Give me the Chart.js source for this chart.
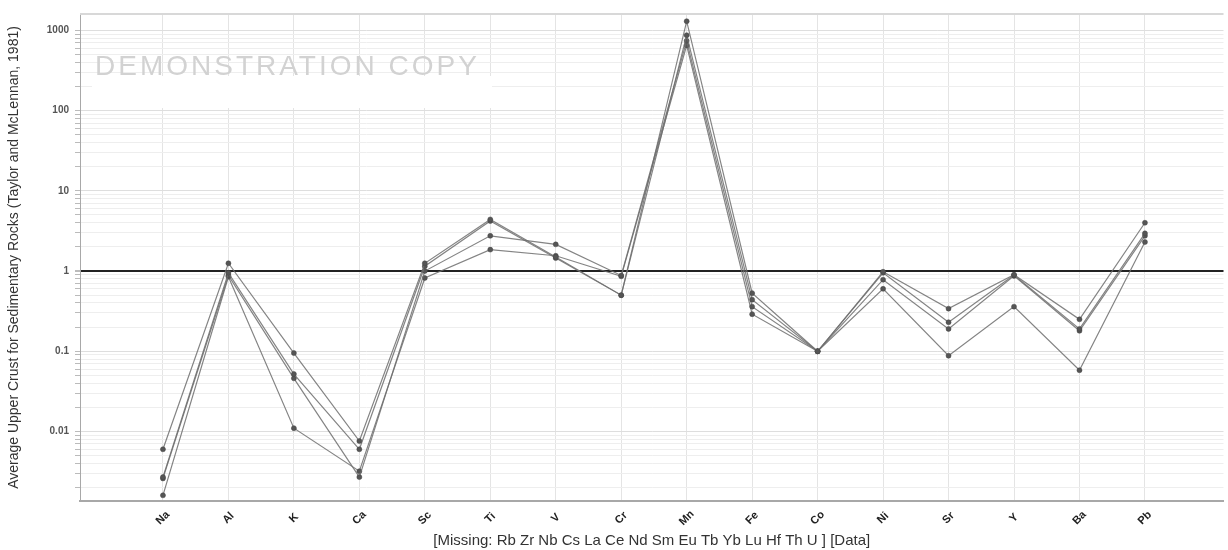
<!DOCTYPE html>
<html>
<head>
<meta charset="utf-8">
<script src="https://cdn.jsdelivr.net/npm/chart.js@4.4.1/dist/chart.umd.min.js"></script>
<style>
  html, body { margin: 0; padding: 0; background: #fff; }
  #wrap { width: 1228px; height: 550px; }
</style>
</head>
<body>
<div id="wrap"><canvas id="spider" width="1228" height="550"></canvas></div>
<script>
// Elements (normalised to upper crust)
const elements = ["Na", "Al", "K", "Ca", "Sc", "Ti", "V", "Cr", "Mn", "Fe", "Co", "Ni", "Sr", "Y", "Ba", "Pb"];

// Samples
const sample1 = [0.0060, 1.25, 0.095, 0.0076, 1.25, 4.4, 1.50, 0.50, 1300, 0.53, 0.10, 0.98, 0.34, 0.90, 0.25, 4.0];
const sample2 = [0.0027, 0.95, 0.052, 0.0060, 1.15, 4.2, 1.45, 0.50, 870, 0.44, 0.10, 0.95, 0.23, 0.89, 0.19, 2.95];
const sample3 = [0.0026, 0.88, 0.046, 0.0027, 1.00, 2.75, 2.15, 0.88, 740, 0.36, 0.10, 0.78, 0.19, 0.87, 0.18, 2.75];
const sample4 = [0.0016, 0.85, 0.011, 0.0032, 0.82, 1.85, 1.55, 0.86, 650, 0.29, 0.10, 0.60, 0.088, 0.36, 0.058, 2.3];

// Decade tick labels on the y axis
const yTicks = [0.01, 0.1, 1, 10, 100, 1000];

const yTitle = "Average Upper Crust for Sedimentary Rocks (Taylor and McLennan, 1981)";
const xTitle = "[Missing: Rb Zr Nb Cs La Ce Nd Sm Eu Tb Yb Lu Hf Th U ] [Data]";
const watermark = "DEMONSTRATION COPY";

// minor grid ticks 2..9 in each decade
const decades = [0.001].concat(yTicks);
const allTicks = [];
decades.forEach(d => {
  for (let m = 1; m <= 9; m++) allTicks.push(Number((m * d).toPrecision(3)));
});

function isDecade(v) {
  return yTicks.some(t => Math.abs(t - v) < t * 1e-6);
}

function toPoints(arr) {
  return arr.map((v, i) => ({ x: i, y: v }));
}

const samples = [sample1, sample2, sample3, sample4];

// Extra drawing: watermark, rotated element labels, frame
const decor = {
  id: "decor",
  beforeDatasetsDraw(chart) {
    const { ctx, chartArea } = chart;
    ctx.save();
    // white band behind watermark
    ctx.fillStyle = "#fff";
    ctx.fillRect(92, 76, 400, 32);
    ctx.font = "28px Arial";
    ctx.letterSpacing = "3px";
    ctx.fillStyle = "#d2d2d2";
    ctx.textBaseline = "alphabetic";
    ctx.fillText(watermark, 95, 75);
    ctx.restore();

    ctx.save();
    ctx.strokeStyle = "#d8d8d8";
    ctx.lineWidth = 2;
    ctx.beginPath();
    ctx.moveTo(chartArea.left, chartArea.top);
    ctx.lineTo(chartArea.right, chartArea.top);
    ctx.stroke();
    ctx.restore();
  },
  afterDraw(chart) {
    const { ctx } = chart;
    const xs = chart.scales.x;
    const bottom = chart.chartArea.bottom;
    ctx.save();
    ctx.font = "bold 11px Arial";
    ctx.fillStyle = "#222";
    ctx.textAlign = "center";
    ctx.textBaseline = "middle";
    elements.forEach((el, i) => {
      const px = xs.getPixelForValue(i);
      ctx.save();
      ctx.translate(px, bottom + 17);
      ctx.rotate(-Math.PI / 4);
      ctx.fillText(el, 0, 0);
      ctx.restore();
    });
    ctx.restore();
  }
};

new Chart(document.getElementById("spider"), {
  type: "line",
  data: {
    datasets: samples.map((s, k) => ({
      label: "Sample " + (k + 1),
      data: toPoints(s),
      borderColor: "rgba(110,110,110,0.85)",
      borderWidth: 1.2,
      pointRadius: 2.5,
      pointBackgroundColor: "#555",
      pointBorderColor: "#444",
      pointBorderWidth: 0.5,
      tension: 0
    }))
  },
  options: {
    responsive: false,
    animation: false,
    layout: { padding: { left: 6, right: 2, top: 14, bottom: 0 } },
    plugins: {
      legend: { display: false },
      tooltip: { enabled: false }
    },
    scales: {
      x: {
        type: "linear",
        min: -1.267,
        max: 16.2,
        afterBuildTicks(scale) {
          scale.ticks = elements.map((e, i) => ({ value: i }));
        },
        afterFit(scale) { scale.height = 49; },
        ticks: { display: false },
        grid: { color: "#e4e4e4", lineWidth: 1, drawTicks: false },
        border: { color: "#a8a8a8", width: 2 },
        title: {
          display: true,
          text: xTitle,
          font: { family: "Arial", size: 15 },
          color: "#333",
          padding: { top: 0, bottom: 0 }
        }
      },
      y: {
        type: "logarithmic",
        min: 0.00136,
        max: 1600,
        afterBuildTicks(scale) {
          scale.ticks = allTicks.filter(v => v >= scale.min && v <= scale.max).map(v => ({ value: v }));
        },
        afterFit(scale) { scale.width = 74; },
        ticks: {
          autoSkip: false,
          font: { family: "Arial", size: 10, weight: "bold" },
          color: "#555",
          padding: 6,
          callback: v => isDecade(v) ? String(v) : ""
        },
        grid: {
          color: c => {
            const v = c.tick ? c.tick.value : 0;
            if (Math.abs(v - 1) < 1e-9) return "#222";
            return isDecade(v) ? "#dedede" : "#eeeeee";
          },
          lineWidth: c => (c.tick && Math.abs(c.tick.value - 1) < 1e-9) ? 2 : 1,
          tickLength: 5,
          tickColor: "#bbb"
        },
        border: { color: "#a8a8a8", width: 1 },
        title: {
          display: true,
          text: yTitle,
          font: { family: "Arial", size: 14 },
          color: "#333",
          padding: { top: 0, bottom: 2 }
        }
      }
    }
  },
  plugins: [decor]
});
</script>
</body>
</html>
